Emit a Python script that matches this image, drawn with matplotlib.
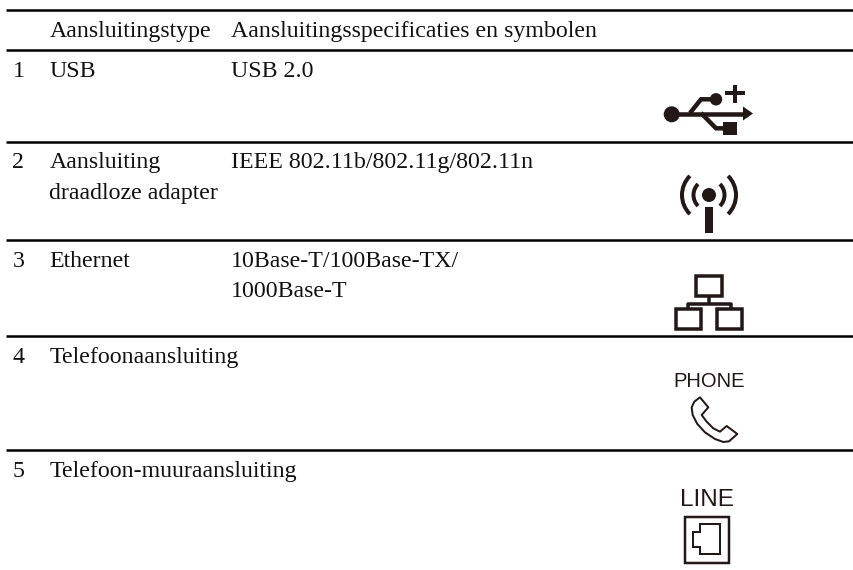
import numpy as np
import matplotlib
matplotlib.use('Agg')
import matplotlib.pyplot as plt
from matplotlib.patches import Arc, Circle, Polygon, Rectangle

plt.rcParams['font.family'] = ['Liberation Serif', 'DejaVu Serif']

WIDTH, HEIGHT = 854, 570
INK = '#231815'

header = ['Aansluitingstype', 'Aansluitingsspecificaties en symbolen']
numbers = ['1', '2', '3', '4', '5']
types = ['USB', 'Aansluiting\ndraadloze adapter', 'Ethernet', 'Telefoonaansluiting', 'Telefoon-muuraansluiting']
specs = ['USB 2.0', 'IEEE 802.11b/802.11g/802.11n', '10Base-T/100Base-TX/\n1000Base-T', '', '']

rule_y = [10, 50, 141.5, 240, 336, 450]
row_y = [77, 168, 266.7, 363.3, 476.7]
LINE_GAP = 30.5

fig = plt.figure(figsize=(WIDTH / 100, HEIGHT / 100), dpi=100)
ax = fig.add_axes([0, 0, 1, 1])
ax.set_xlim(0, WIDTH)
ax.set_ylim(HEIGHT, 0)
ax.axis('off')


def put(x, y, s):
    for i, part in enumerate(s.split('\n')):
        ax.text(x, y + i * LINE_GAP, part, fontsize=17.2, color='#111111', va='baseline', ha='left')


for y in rule_y:
    ax.plot([6, 854], [y, y], color='black', lw=1.8, solid_capstyle='butt')

put(49.5, 37, header[0])
put(231, 37, header[1])
for n, t, s, y in zip(numbers, types, specs, row_y):
    put(12.5, y, n)
    put(49.5, y, t)
    put(231, y, s)


def line(xs, ys, w, cap='butt', join='miter'):
    ax.plot(xs, ys, color=INK, lw=w * 0.72, solid_capstyle=cap, solid_joinstyle=join)


# usb icon
ax.add_patch(Circle((671.7, 114.3), 8, color=INK, lw=0))
line([672, 748], [113.5, 113.5], 4.5)
ax.add_patch(Polygon([(743, 106.5), (753, 113.5), (743, 120.5)], color=INK, lw=0))
line([690, 701, 715], [113, 99.3, 99.3], 4.5)
ax.add_patch(Circle((716, 99.3), 6.2, color=INK, lw=0))
line([735, 735], [85, 103], 4)
line([725, 745], [93, 93], 4)
line([701, 716, 727], [113, 128.3, 128.3], 4.5)
ax.add_patch(Rectangle((723.3, 121.7), 13.4, 13.4, color=INK, lw=0))

# wireless icon
ax.add_patch(Circle((709, 195), 7, color=INK, lw=0))
line([709, 709], [207, 233], 8)
for r in (15.5, 27):
    ax.add_patch(Arc((709, 195), 2 * r, 2 * r, theta1=135, theta2=225, color=INK, lw=4 * 0.72))
    ax.add_patch(Arc((709, 195), 2 * r, 2 * r, theta1=-45, theta2=45, color=INK, lw=4 * 0.72))

# ethernet icon
ax.add_patch(Rectangle((696.5, 275.5), 25.5, 20, fill=False, ec=INK, lw=3.5 * 0.72))
line([709, 709], [297, 304], 3.5)
line([688, 688, 731, 731], [310, 304, 304, 310], 3.5, join='round')
ax.add_patch(Rectangle((676.5, 309), 25, 20, fill=False, ec=INK, lw=3.5 * 0.72))
ax.add_patch(Rectangle((717, 309), 25, 20, fill=False, ec=INK, lw=3.5 * 0.72))

# phone icon
ax.text(709, 386.7, 'PHONE', fontsize=14.5, family=['Liberation Sans', 'DejaVu Sans'], color=INK, ha='center', va='baseline')
hand_x = np.array([120, 103, 95, 98, 112, 135, 165, 190, 207, 232, 200, 180, 160, 140, 125, 145])
hand_y = np.array([232, 245, 262, 285, 312, 337, 357, 366, 364, 342, 318, 335, 325, 305, 285, 262])
ax.add_patch(Polygon(np.c_[660 + hand_x / 3, 320 + hand_y / 3], closed=True, fill=False, ec=INK, lw=2 * 0.72, joinstyle='round'))

# line icon
ax.text(707, 506, 'LINE', fontsize=17.5, family=['Liberation Sans', 'DejaVu Sans'], color=INK, ha='center', va='baseline')
ax.add_patch(Rectangle((685, 516.5), 44, 46, fill=False, ec=INK, lw=2.5 * 0.72))
jack_x = np.array([120, 180, 180, 120, 120, 100, 100, 120])
jack_y = np.array([222, 222, 312, 312, 290, 290, 245, 245])
ax.add_patch(Polygon(np.c_[660 + jack_x / 3, 450 + jack_y / 3], closed=True, fill=False, ec=INK, lw=2 * 0.72))

fig.savefig('out.png', dpi=100)
